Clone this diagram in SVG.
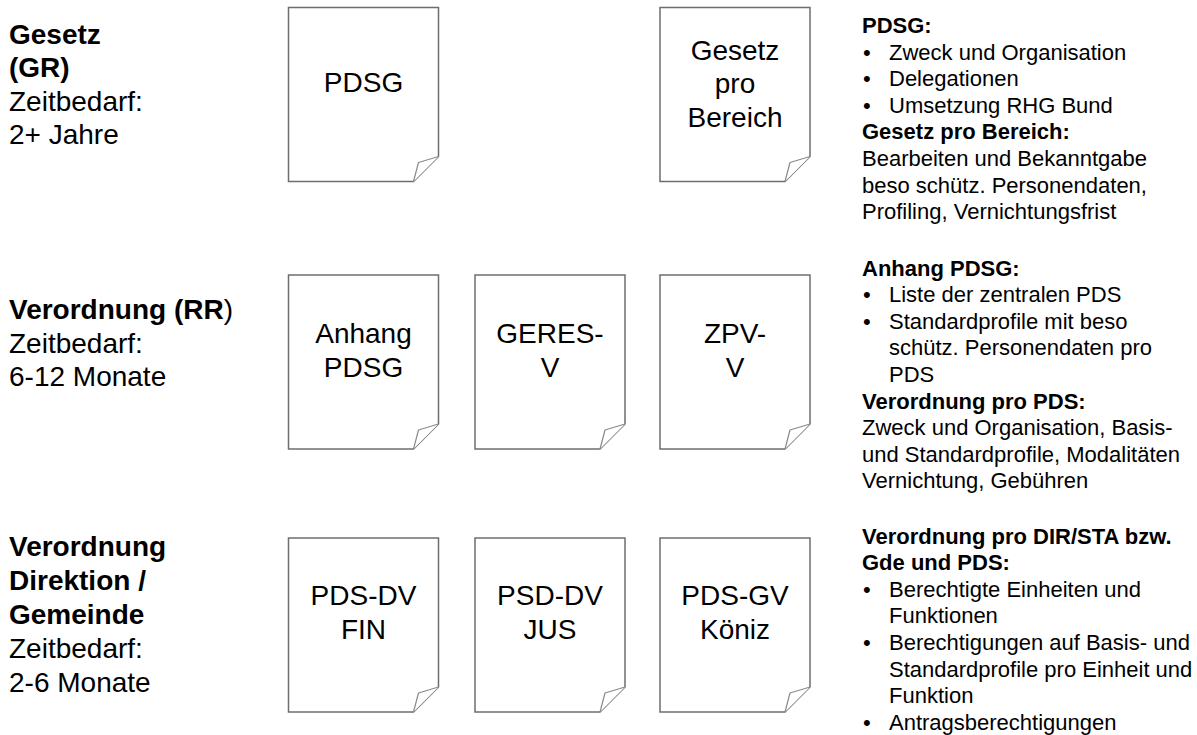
<svg xmlns="http://www.w3.org/2000/svg" xmlns:xlink="http://www.w3.org/1999/xlink" width="1197" height="735" viewBox="0 0 1197 735">
<style>
text { font-family: "Liberation Sans", Arial, sans-serif; fill: #000; }
.lab { font-size: 28px; }
.b { font-weight: bold; }
.n { font-weight: normal; }
.dt { font-size: 28px; text-anchor: middle; }
.rt { font-size: 22px; }
.page { fill: #fff; stroke: #6e6e6e; stroke-width: 1.5; }
.flap { fill: #fff; stroke: #8a8a8a; stroke-width: 1.2; stroke-linejoin: round; }
</style>
<defs>
<g id="doc">
<path class="page" d="M0,0 H150 V149 L125,174 H0 Z"/>
<path class="flap" d="M125,174 L130,155 L150,149"/>
</g>
</defs>
<rect width="1197" height="735" fill="#fff"/>

<g id="label-gesetz">
<text class="lab" x="9" y="43.5"><tspan class="b">Gesetz</tspan><tspan class="b" x="9" dy="33.6">(GR)</tspan><tspan x="9" dy="33.6">Zeitbedarf:</tspan><tspan x="9" dy="33.6">2+ Jahre</tspan></text>
</g>
<g id="label-verordnung-rr">
<text class="lab" x="9" y="319"><tspan class="b">Verordnung (RR</tspan><tspan>)</tspan><tspan x="9" dy="33.6">Zeitbedarf:</tspan><tspan x="9" dy="33.6">6-12 Monate</tspan></text>
</g>
<g id="label-verordnung-dir">
<text class="lab" x="9" y="556"><tspan class="b">Verordnung</tspan><tspan class="b" x="9" dy="34">Direktion /</tspan><tspan class="b" x="9" dy="34">Gemeinde</tspan><tspan x="9" dy="34">Zeitbedarf:</tspan><tspan x="9" dy="34">2-6 Monate</tspan></text>
</g>

<g id="doc-pdsg">
<use xlink:href="#doc" x="288.5" y="7.5"/>
<text class="dt" x="363.5" y="92">PDSG</text>
</g>
<g id="doc-gesetz-pro-bereich">
<use xlink:href="#doc" x="660" y="7.5"/>
<text class="dt" x="735" y="59.5">Gesetz<tspan x="735" dy="33.5">pro</tspan><tspan x="735" dy="33.5">Bereich</tspan></text>
</g>
<g id="doc-anhang-pdsg">
<use xlink:href="#doc" x="288.5" y="275"/>
<text class="dt" x="363.5" y="343">Anhang<tspan x="363.5" dy="33.5">PDSG</tspan></text>
</g>
<g id="doc-geres-v">
<use xlink:href="#doc" x="475" y="275"/>
<text class="dt" x="550" y="343">GERES-<tspan x="550" dy="33.5">V</tspan></text>
</g>
<g id="doc-zpv-v">
<use xlink:href="#doc" x="660" y="275"/>
<text class="dt" x="735" y="343">ZPV-<tspan x="735" dy="33.5">V</tspan></text>
</g>
<g id="doc-pds-dv-fin">
<use xlink:href="#doc" x="288.5" y="538"/>
<text class="dt" x="363.5" y="605">PDS-DV<tspan x="363.5" dy="33.5">FIN</tspan></text>
</g>
<g id="doc-psd-dv-jus">
<use xlink:href="#doc" x="475" y="538"/>
<text class="dt" x="550" y="605">PSD-DV<tspan x="550" dy="33.5">JUS</tspan></text>
</g>
<g id="doc-pds-gv-koeniz">
<use xlink:href="#doc" x="660" y="538"/>
<text class="dt" x="735" y="605">PDS-GV<tspan x="735" dy="33.5">Köniz</tspan></text>
</g>

<g id="note-gesetz" class="rt">
<text class="rt b" x="862" y="33">PDSG:</text>
<text class="rt" x="863" y="59.6">•</text><text class="rt" x="889" y="59.6">Zweck und Organisation</text>
<text class="rt" x="863" y="86.2">•</text><text class="rt" x="889" y="86.2">Delegationen</text>
<text class="rt" x="863" y="112.8">•</text><text class="rt" x="889" y="112.8">Umsetzung RHG Bund</text>
<text class="rt b" x="862" y="139.4">Gesetz pro Bereich:</text>
<text class="rt" x="862" y="166">Bearbeiten und Bekanntgabe</text>
<text class="rt" x="862" y="192.6">beso schütz. Personendaten,</text>
<text class="rt" x="862" y="219.2">Profiling, Vernichtungsfrist</text>
</g>
<g id="note-verordnung" class="rt">
<text class="rt b" x="862" y="275.5">Anhang PDSG:</text>
<text class="rt" x="863" y="302.1">•</text><text class="rt" x="889" y="302.1">Liste der zentralen PDS</text>
<text class="rt" x="863" y="328.7">•</text><text class="rt" x="889" y="328.7">Standardprofile mit beso</text>
<text class="rt" x="889" y="355.3">schütz. Personendaten pro</text>
<text class="rt" x="889" y="381.9">PDS</text>
<text class="rt b" x="862" y="408.5">Verordnung pro PDS:</text>
<text class="rt" x="862" y="435.1">Zweck und Organisation, Basis-</text>
<text class="rt" x="862" y="461.7">und Standardprofile, Modalitäten</text>
<text class="rt" x="862" y="488.3">Vernichtung, Gebühren</text>
</g>
<g id="note-direktion" class="rt">
<text class="rt b" x="862" y="543.5">Verordnung pro DIR/STA bzw.</text>
<text class="rt b" x="862" y="570.1">Gde und PDS:</text>
<text class="rt" x="863" y="596.7">•</text><text class="rt" x="889" y="596.7">Berechtigte Einheiten und</text>
<text class="rt" x="889" y="623.3">Funktionen</text>
<text class="rt" x="863" y="649.9">•</text><text class="rt" x="889" y="649.9">Berechtigungen auf Basis- und</text>
<text class="rt" x="889" y="676.5">Standardprofile pro Einheit und</text>
<text class="rt" x="889" y="703.1">Funktion</text>
<text class="rt" x="863" y="729.7">•</text><text class="rt" x="889" y="729.7">Antragsberechtigungen</text>
</g>

<g id="connectors"/>
</svg>
